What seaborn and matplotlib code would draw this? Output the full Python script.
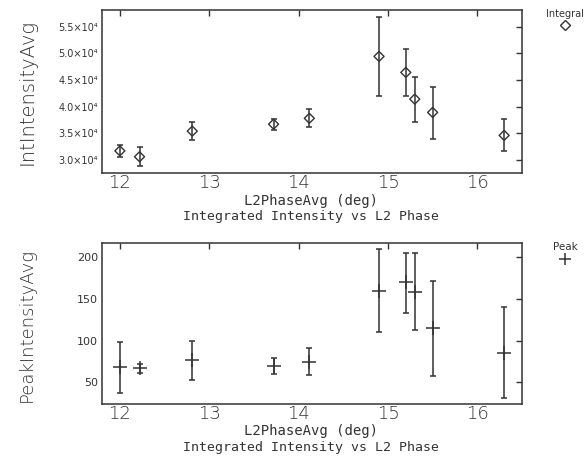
import matplotlib
matplotlib.use("Agg")
import matplotlib.pyplot as plt
from matplotlib.lines import Line2D
import seaborn as sns
import pandas as pd

# ---- data ----
phase = [12.0, 12.22, 12.81, 13.72, 14.12, 14.9, 15.2, 15.3, 15.5, 16.3]
int_avg = [3.17e4, 3.06e4, 3.54e4, 3.67e4, 3.78e4, 4.94e4, 4.64e4, 4.14e4, 3.89e4, 3.46e4]
int_hi = [3.28e4, 3.24e4, 3.72e4, 3.76e4, 3.96e4, 5.67e4, 5.07e4, 4.56e4, 4.37e4, 3.77e4]
int_lo = [3.06e4, 2.89e4, 3.375e4, 3.57e4, 3.62e4, 4.20e4, 4.19e4, 3.71e4, 3.39e4, 3.17e4]
peak_avg = [68.7, 66.7, 76.7, 70.0, 74.7, 159.0, 169.4, 158.2, 114.5, 85.4]
peak_hi = [98.6, 71.9, 99.8, 79.5, 91.0, 208.8, 204.4, 204.4, 171.4, 139.5]
peak_lo = [37.7, 60.8, 52.8, 60.0, 58.4, 109.7, 132.8, 112.9, 57.6, 32.1]
x_ticks = [12, 13, 14, 15, 16]
int_ticks = [3.0e4, 3.5e4, 4.0e4, 4.5e4, 5.0e4, 5.5e4]
int_tick_labels = ["3.0×10⁴", "3.5×10⁴", "4.0×10⁴", "4.5×10⁴", "5.0×10⁴", "5.5×10⁴"]
peak_ticks = [50, 100, 150, 200]
x_label = "L2PhaseAvg (deg)"
title = "Integrated Intensity vs L2 Phase"

sns.set_style("white")
plt.rcParams['font.family'] = ['DejaVu Sans']
INK = "#333333"

df = pd.DataFrame({"phase": phase, "int": int_avg, "peak": peak_avg})

fig = plt.figure(figsize=(5.87, 4.57), dpi=100)
W, H = 587, 457
ax1 = fig.add_axes([102 / W, 1 - 173 / H, 420 / W, 163 / H])
ax2 = fig.add_axes([102 / W, 1 - 404.3 / H, 420 / W, 161.6 / H])

# top panel
ax1.errorbar(phase, int_avg,
             yerr=[[a - l for a, l in zip(int_avg, int_lo)], [h - a for a, h in zip(int_avg, int_hi)]],
             fmt="none", ecolor=INK, elinewidth=1.1, capsize=2.0, capthick=1.1)
sns.scatterplot(data=df, x="phase", y="int", ax=ax1, marker="D", s=26,
                facecolors="none", edgecolor=INK, linewidth=1.0, zorder=3)
ax1.set_ylim(2.755e4, 5.81e4)
ax1.set_yticks(int_ticks)
ax1.set_yticklabels(int_tick_labels, fontsize=7)

# bottom panel
ax2.errorbar(phase, peak_avg,
             yerr=[[a - l for a, l in zip(peak_avg, peak_lo)], [h - a for a, h in zip(peak_avg, peak_hi)]],
             fmt="none", ecolor=INK, elinewidth=1.1, capsize=2.0, capthick=1.1)
sns.scatterplot(data=df, x="phase", y="peak", ax=ax2, marker="+", s=90,
                color=INK, linewidth=1.1, zorder=3)
ax2.set_ylim(24, 216.7)
ax2.set_yticks(peak_ticks)
ax2.set_yticklabels([str(t) for t in peak_ticks], fontsize=8)

for ax in (ax1, ax2):
    ax.set_xlim(11.8, 16.5)
    ax.set_xticks(x_ticks)
    ax.set_xticklabels([str(t) for t in x_ticks], fontsize=13, fontweight="light")
    ax.tick_params(direction="in", top=True, right=True, length=4, width=1,
                   color=INK, labelcolor=INK, pad=3)
    ax.tick_params(axis="x", pad=0.5)
    for sp in ax.spines.values():
        sp.set_color(INK)
        sp.set_linewidth(1.1)
    ax.set_xlabel("")
    ax.set_ylabel("")

# labels
fig.text(27 / W, 1 - 92 / H, "IntIntensityAvg", rotation=90, ha="center", va="center",
         fontsize=14, fontweight="light", color=INK)
fig.text(27 / W, 1 - 325 / H, "PeakIntensityAvg", rotation=90, ha="center", va="center",
         fontsize=13, fontweight="light", color=INK)
for yl, yt in ((201, 217), (431, 447)):
    fig.text(311 / W, 1 - yl / H, x_label, ha="center", va="center",
             fontsize=10, family="DejaVu Sans Mono", color=INK)
    fig.text(311 / W, 1 - yt / H, title, ha="center", va="center",
             fontsize=9.5, family="DejaVu Sans Mono", color=INK)

# legends (text above marker)
fig.text(565 / W, 1 - 14 / H, "Integral", ha="center", va="center", fontsize=7, color=INK)
fig.add_artist(Line2D([565 / W], [1 - 25 / H], marker="D", markersize=5.5,
                      markerfacecolor="none", markeredgecolor=INK, transform=fig.transFigure))
fig.text(565 / W, 1 - 247 / H, "Peak", ha="center", va="center", fontsize=7.5, color=INK)
fig.add_artist(Line2D([565 / W], [1 - 259 / H], marker="+", markersize=9,
                      markeredgewidth=1.1, color=INK, transform=fig.transFigure))

fig.savefig("out.png", dpi=100)
